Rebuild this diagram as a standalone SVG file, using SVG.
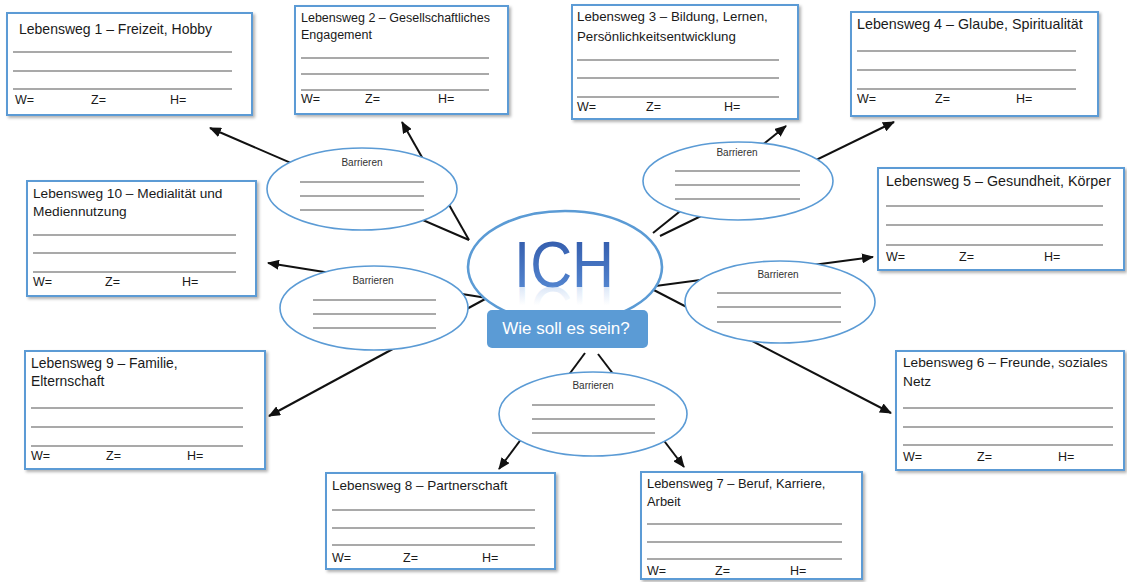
<svg xmlns="http://www.w3.org/2000/svg" xmlns:xlink="http://www.w3.org/1999/xlink" width="1127" height="582" viewBox="0 0 1127 582">
<style>
.box{fill:#fff;stroke:#5B9BD5;stroke-width:2;filter:url(#sh)}
.t{font-family:"Liberation Sans",Arial,sans-serif;fill:#1a1a1a}
.ln{stroke:#555;stroke-width:1.2}
.bar{fill:#fff;stroke:#5B9BD5;stroke-width:1.6}
.bt{font-family:"Liberation Sans",Arial,sans-serif;font-size:10px;fill:#333;text-anchor:middle}
.con{stroke:#111;stroke-width:2;fill:none;marker-end:url(#ah)}
</style>
<defs>
<filter id="sh" x="-5%" y="-5%" width="115%" height="120%">
<feDropShadow dx="2" dy="2" stdDeviation="1.5" flood-color="#000" flood-opacity="0.3"/>
</filter>
<marker id="ah" markerUnits="userSpaceOnUse" markerWidth="12" markerHeight="10" refX="11" refY="5" orient="auto">
<path d="M0,0 L12,5 L0,10 z" fill="#111"/>
</marker>
<linearGradient id="ichg" x1="0" y1="0" x2="0" y2="1">
<stop offset="0" stop-color="#2E55A6"/>
<stop offset="1" stop-color="#5B8FD8"/>
</linearGradient>
<linearGradient id="ichr" x1="0" y1="0" x2="0" y2="1">
<stop offset="0.55" stop-color="#8FB3E6" stop-opacity="0"/>
<stop offset="1" stop-color="#8FB3E6" stop-opacity="0.55"/>
</linearGradient>
<text id="ichtxt" x="564" y="287" text-anchor="middle" font-family="'Liberation Sans',Arial,sans-serif" font-size="64" textLength="100" lengthAdjust="spacingAndGlyphs">ICH</text>
</defs>
<rect width="1127" height="582" fill="#fff"/>

<g id="connectors">
<line class="con" x1="469" y1="240" x2="210" y2="128"/>
<line class="con" x1="469" y1="240" x2="402" y2="122"/>
<line class="con" x1="653" y1="233" x2="786" y2="126"/>
<line class="con" x1="660" y1="236" x2="894" y2="122"/>
<line class="con" x1="648" y1="287" x2="873" y2="257"/>
<line class="con" x1="648" y1="287" x2="891" y2="413"/>
<line class="con" x1="598" y1="354" x2="684" y2="467"/>
<line class="con" x1="585" y1="353" x2="499" y2="469"/>
<line class="con" x1="487" y1="298" x2="269" y2="416"/>
<line class="con" x1="487" y1="298" x2="268" y2="263"/>
</g>

<g id="barriere1">
<ellipse class="bar" cx="362" cy="189" rx="95" ry="41"/>
<text class="bt" x="362" y="166">Barrieren</text>
<path class="ln" d="M300,182H424M300,196H424M300,210H424"/>
</g>
<g id="barriere2">
<ellipse class="bar" cx="738" cy="181" rx="95" ry="39"/>
<text class="bt" x="737" y="156">Barrieren</text>
<path class="ln" d="M675,171H800M675,185H800M675,199H800"/>
</g>
<g id="barriere3">
<ellipse class="bar" cx="374" cy="308" rx="94" ry="42"/>
<text class="bt" x="373" y="284">Barrieren</text>
<path class="ln" d="M313,300H436M313,314H436M313,328H436"/>
</g>
<g id="barriere4">
<ellipse class="bar" cx="780" cy="302" rx="95" ry="41"/>
<text class="bt" x="778" y="278">Barrieren</text>
<path class="ln" d="M717,293H841M717,307H841M717,322H841"/>
</g>
<g id="barriere5">
<ellipse class="bar" cx="593" cy="414" rx="94" ry="42"/>
<text class="bt" x="593" y="389">Barrieren</text>
<path class="ln" d="M532,405H655M532,419H655M532,433H655"/>
</g>

<g id="ich">
<ellipse cx="565" cy="267" rx="97" ry="56" fill="#fff" stroke="#5B9BD5" stroke-width="2.6"/>
<use href="#ichtxt" xlink:href="#ichtxt" fill="url(#ichg)"/>
<use href="#ichtxt" xlink:href="#ichtxt" fill="url(#ichr)" transform="translate(0,574) scale(1,-1)"/>
<rect x="487" y="310" width="161" height="38" rx="5" fill="#5B9BD5"/>
<text x="566" y="334" text-anchor="middle" font-family="'Liberation Sans',Arial,sans-serif" font-size="17" fill="#fff">Wie soll es sein?</text>
</g>

<g id="lebensweg1" font-size="14">
<rect class="box" x="7" y="13" width="245" height="102"/>
<text class="t" x="19" y="34">Lebensweg 1 – Freizeit, Hobby</text>
<path class="ln" d="M13,52H232M13,71H232M13,89H232"/>
<text class="t" x="15" y="104" font-size="12.5">W=</text>
<text class="t" x="91" y="104" font-size="12.5">Z=</text>
<text class="t" x="170" y="104" font-size="12.5">H=</text>
</g>
<g id="lebensweg2" font-size="12.5">
<rect class="box" x="295" y="6" width="213" height="108"/>
<text class="t" x="301" y="22">Lebensweg 2 – Gesellschaftliches</text>
<text class="t" x="301" y="39">Engagement</text>
<path class="ln" d="M301,58H489M301,74H489M301,90H489"/>
<text class="t" x="301" y="103">W=</text>
<text class="t" x="365" y="103">Z=</text>
<text class="t" x="438" y="103">H=</text>
</g>
<g id="lebensweg3" font-size="13.3">
<rect class="box" x="572" y="5" width="226" height="114"/>
<text class="t" x="577" y="21">Lebensweg 3 – Bildung, Lernen,</text>
<text class="t" x="577" y="41">Persönlichkeitsentwicklung</text>
<path class="ln" d="M577,60H779M577,78H779M577,97H779"/>
<text class="t" x="577" y="111" font-size="12.5">W=</text>
<text class="t" x="646" y="111" font-size="12.5">Z=</text>
<text class="t" x="724" y="111" font-size="12.5">H=</text>
</g>
<g id="lebensweg4" font-size="14.3">
<rect class="box" x="851" y="12" width="247" height="104"/>
<text class="t" x="857" y="29">Lebensweg 4 – Glaube, Spiritualität</text>
<path class="ln" d="M857,51H1076M857,70H1076M857,89H1076"/>
<text class="t" x="857" y="103" font-size="12.5">W=</text>
<text class="t" x="935" y="103" font-size="12.5">Z=</text>
<text class="t" x="1016" y="103" font-size="12.5">H=</text>
</g>
<g id="lebensweg5" font-size="14.3">
<rect class="box" x="878" y="168" width="246" height="102"/>
<text class="t" x="886" y="186">Lebensweg 5 – Gesundheit, Körper</text>
<path class="ln" d="M886,206H1103M886,225H1103M886,245H1103"/>
<text class="t" x="886" y="261" font-size="12.5">W=</text>
<text class="t" x="959" y="261" font-size="12.5">Z=</text>
<text class="t" x="1044" y="261" font-size="12.5">H=</text>
</g>
<g id="lebensweg6" font-size="13.7">
<rect class="box" x="896" y="351" width="228" height="119"/>
<text class="t" x="903" y="367">Lebensweg 6 – Freunde, soziales</text>
<text class="t" x="903" y="386">Netz</text>
<path class="ln" d="M903,408H1113M903,427H1113M903,445H1113"/>
<text class="t" x="903" y="461" font-size="12.5">W=</text>
<text class="t" x="977" y="461" font-size="12.5">Z=</text>
<text class="t" x="1058" y="461" font-size="12.5">H=</text>
</g>
<g id="lebensweg7" font-size="12.9">
<rect class="box" x="641" y="472" width="221" height="107"/>
<text class="t" x="647" y="488">Lebensweg 7 – Beruf, Karriere,</text>
<text class="t" x="647" y="506">Arbeit</text>
<path class="ln" d="M647,524H842M647,542H842M647,559H842"/>
<text class="t" x="647" y="575" font-size="12.5">W=</text>
<text class="t" x="715" y="575" font-size="12.5">Z=</text>
<text class="t" x="790" y="575" font-size="12.5">H=</text>
</g>
<g id="lebensweg8" font-size="13.5">
<rect class="box" x="326" y="473" width="229" height="96"/>
<text class="t" x="332" y="490">Lebensweg 8 – Partnerschaft</text>
<path class="ln" d="M332,510H535M332,528H535M332,545H535"/>
<text class="t" x="332" y="562" font-size="12.5">W=</text>
<text class="t" x="403" y="562" font-size="12.5">Z=</text>
<text class="t" x="482" y="562" font-size="12.5">H=</text>
</g>
<g id="lebensweg9" font-size="13.9">
<rect class="box" x="25" y="351" width="240" height="118"/>
<text class="t" x="31" y="368">Lebensweg 9 – Familie,</text>
<text class="t" x="31" y="386">Elternschaft</text>
<path class="ln" d="M31,408H243M31,427H243M31,446H243"/>
<text class="t" x="31" y="460" font-size="12.5">W=</text>
<text class="t" x="106" y="460" font-size="12.5">Z=</text>
<text class="t" x="187" y="460" font-size="12.5">H=</text>
</g>
<g id="lebensweg10" font-size="13.7">
<rect class="box" x="27" y="181" width="229" height="115"/>
<text class="t" x="33" y="198">Lebensweg 10 – Medialität und</text>
<text class="t" x="33" y="216">Mediennutzung</text>
<path class="ln" d="M33,235H236M33,253H236M33,272H236"/>
<text class="t" x="33" y="286" font-size="12.5">W=</text>
<text class="t" x="105" y="286" font-size="12.5">Z=</text>
<text class="t" x="182" y="286" font-size="12.5">H=</text>
</g>
</svg>
